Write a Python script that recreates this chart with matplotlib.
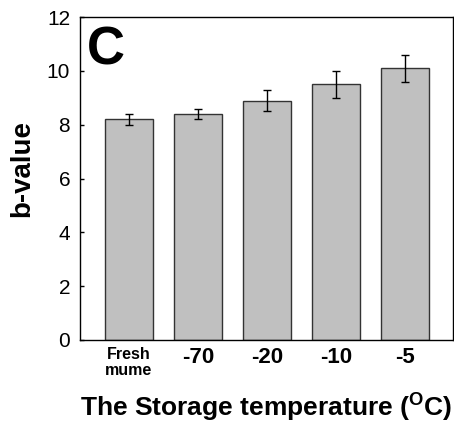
import matplotlib
matplotlib.use("Agg")
import matplotlib.pyplot as plt

plt.rcParams['font.family'] = ['Liberation Sans', 'DejaVu Sans']

# ----------------------------
# Data
# ----------------------------
categories = ['Fresh\nmume', '-70', '-20', '-10', '-5']
b_values = [8.2, 8.4, 8.9, 9.5, 10.1]
b_errors = [0.2, 0.2, 0.4, 0.5, 0.5]
y_ticks = [0, 2, 4, 6, 8, 10, 12]

# ----------------------------
# Chart
# ----------------------------
fig = plt.figure(figsize=(4.54, 4.29), dpi=100)
ax = fig.add_axes([0.176, 0.2075, 0.822, 0.7525])

x = range(len(categories))
ax.bar(x, b_values, width=0.7, color='#c0c0c0', edgecolor='#333333', linewidth=1.0,
       yerr=b_errors, capsize=3, error_kw={'elinewidth': 1.0, 'capthick': 1.0, 'ecolor': 'black'})

ax.set_xlim(-0.71, 4.7)
ax.set_ylim(0, 12)
ax.set_yticks(y_ticks)
ax.set_yticklabels([str(v) for v in y_ticks], fontsize=15)
ax.tick_params(axis='y', direction='in', length=3, width=1, pad=7)
ax.set_xticks(list(x))
ax.set_xticklabels(categories)
ax.tick_params(axis='x', length=0, pad=5)
for i, lbl in enumerate(ax.get_xticklabels()):
    lbl.set_fontweight('bold')
    lbl.set_fontsize(11.5 if i == 0 else 16)
    if i == 0:
        lbl.set_linespacing(1.05)

for s in ax.spines.values():
    s.set_linewidth(1.0)

ax.set_ylabel('b-value', fontsize=20, fontweight='bold', va='center')
ax.yaxis.set_label_coords(-0.155, 0.53)
ax.set_xlabel('The Storage temperature ($\\mathregular{^{O}}$C)', fontsize=19,
              fontweight='bold', va='center')
ax.xaxis.set_label_coords(0.5, -0.21)
ax.text(0.02, 0.975, 'C', transform=ax.transAxes, fontsize=38, fontweight='bold',
        va='top', ha='left')

fig.savefig('out.png', dpi=100)
